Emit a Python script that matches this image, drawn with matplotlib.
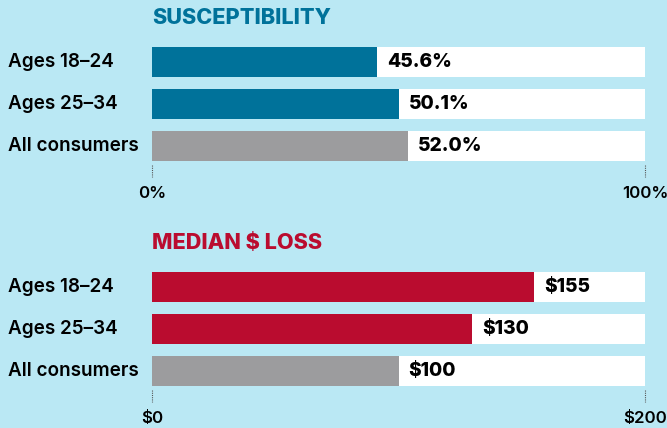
import matplotlib.pyplot as plt

W, H = 667, 428

categories = ["Ages 18–24", "Ages 25–34", "All consumers"]
susceptibility = [45.6, 50.1, 52.0]
susceptibility_labels = ["45.6%", "50.1%", "52.0%"]
median_loss = [155, 130, 100]
median_loss_labels = ["$155", "$130", "$100"]

BG = "#BAE8F4"
TEAL = "#00729A"
RED = "#BA0C2F"
GREY = "#9C9C9E"
FONT = ["Inter", "DejaVu Sans"]


def px_rect(left, top, width, height):
    return [left / W, 1 - (top + height) / H, width / W, height / H]


def draw_panel(fig, top_px, title, title_color, values, labels, colors, xmax, tick_labels):
    ax = fig.add_axes(px_rect(152, top_px, 493, 126))
    ax.set_facecolor("none")
    y = list(range(len(categories)))
    ax.barh(y, [xmax] * len(y), height=30 / 42, color="white")
    ax.barh(y, values, height=30 / 42, color=colors)
    ax.set_xlim(0, xmax)
    ax.set_ylim(len(y) - 0.5, -0.5)
    ax.axis("off")

    for yi, v, lab in zip(y, values, labels):
        ax.text(v + xmax * 0.02, yi, lab, va="center", ha="left",
                fontsize=13.8, fontweight="heavy", family=FONT, color="black")
    for yi, cat in zip(y, categories):
        fig.text(8 / W, 1 - (top_px + 21 + 42 * yi) / H, cat, va="center", ha="left",
                 fontsize=13.6, fontweight="semibold", family=FONT, color="black")

    # dotted ticks and labels at both ends
    for xv, tl in zip([0, xmax], tick_labels):
        ax.plot([xv, xv], [2.45, 2.74], color="#555555", lw=0.8, ls=(0, (1, 1)),
                clip_on=False)
        ax.text(xv, 3.12, tl, ha="center", va="center", fontsize=12.2,
                fontweight="semibold", family=FONT, color="black", clip_on=False)

    fig.text(152 / W, 1 - (top_px - 23) / H, title, ha="left", va="center",
             fontsize=15.6, fontweight="heavy", family=FONT, color=title_color)


fig = plt.figure(figsize=(W / 100, H / 100), dpi=100)
fig.patch.set_facecolor(BG)

draw_panel(fig, 41, "SUSCEPTIBILITY", TEAL, susceptibility, susceptibility_labels,
           [TEAL, TEAL, GREY], 100, ["0%", "100%"])
draw_panel(fig, 266, "MEDIAN $ LOSS", RED, median_loss, median_loss_labels,
           [RED, RED, GREY], 200, ["$0", "$200"])

fig.savefig("out.png", dpi=100, facecolor=BG)
